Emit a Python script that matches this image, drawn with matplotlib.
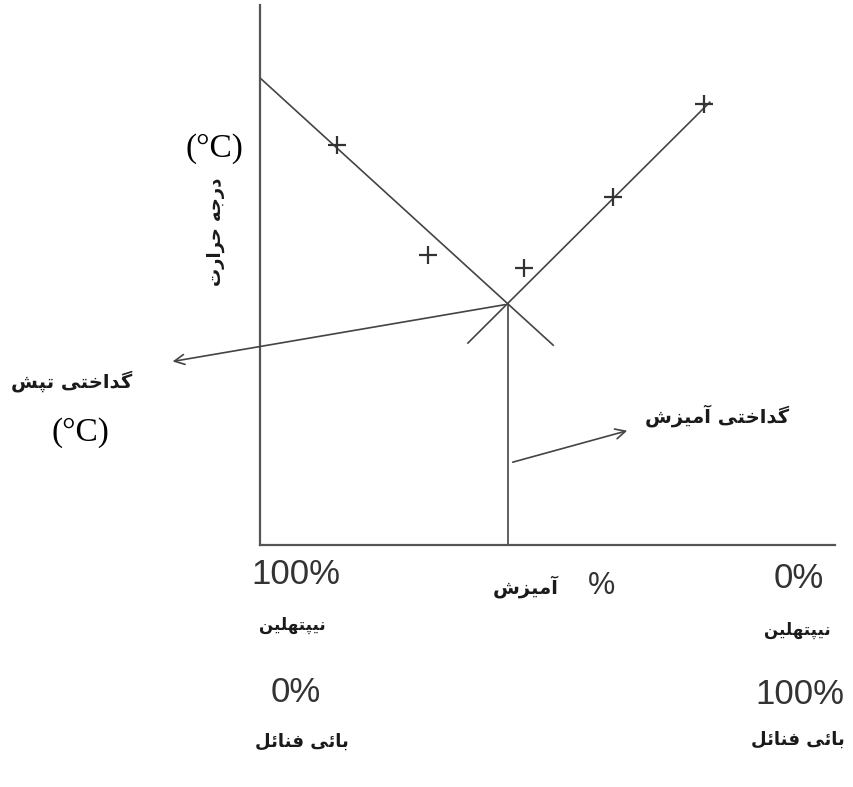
import matplotlib
matplotlib.use("Agg")
import matplotlib.pyplot as plt
from matplotlib import font_manager
from fontTools.ttLib import TTFont

# ---------------- data (composition %, temperature in arbitrary units) -------------
liq_left_x = [0.0, 54.3]        # naphthalene-rich liquidus line
liq_left_y = [86.5, 37.0]
liq_right_x = [38.5, 83.3]      # biphenyl-rich liquidus line
liq_right_y = [37.4, 82.0]
eutectic_x = 45.9
eutectic_y = 44.6
meas_x = [14.3, 31.1, 48.9, 65.4, 82.2]   # measured points (+)
meas_y = [74.1, 53.7, 51.3, 64.4, 81.7]

lbl_temp = "درجہ حرارت"
lbl_unit = "(°C)"
lbl_eut_temp = "گداختی تپش"
lbl_eut_mix = "گداختی آمیزش"
lbl_comp = "آمیزش"
lbl_naph = "نیپتھلین"
lbl_biph = "بائی فنائل"
left_pcts = ["100%", "0%"]
right_pcts = ["0%", "100%"]

# ---------------- minimal Arabic/Urdu shaping (matplotlib has no shaping) ----------
FORMS = {  # iso, fin, ini, med
    'ا': (0xFE8D, 0xFE8E, None, None), 'آ': (0xFE81, 0xFE82, None, None),
    'د': (0xFEA9, 0xFEAA, None, None), 'ر': (0xFEAD, 0xFEAE, None, None),
    'ز': (0xFEAF, 0xFEB0, None, None),
    'ب': (0xFE8F, 0xFE90, 0xFE91, 0xFE92), 'ت': (0xFE95, 0xFE96, 0xFE97, 0xFE98),
    'ج': (0xFE9D, 0xFE9E, 0xFE9F, 0xFEA0), 'ح': (0xFEA1, 0xFEA2, 0xFEA3, 0xFEA4),
    'خ': (0xFEA5, 0xFEA6, 0xFEA7, 0xFEA8), 'ش': (0xFEB5, 0xFEB6, 0xFEB7, 0xFEB8),
    'ف': (0xFED1, 0xFED2, 0xFED3, 0xFED4), 'ل': (0xFEDD, 0xFEDE, 0xFEDF, 0xFEE0),
    'م': (0xFEE1, 0xFEE2, 0xFEE3, 0xFEE4), 'ن': (0xFEE5, 0xFEE6, 0xFEE7, 0xFEE8),
    'ئ': (0xFE89, 0xFE8A, 0xFE8B, 0xFE8C),
    'پ': (0xFB56, 0xFB57, 0xFB58, 0xFB59), 'ٹ': (0xFB66, 0xFB67, 0xFB68, 0xFB69),
    'ک': (0xFB8E, 0xFB8F, 0xFB90, 0xFB91), 'گ': (0xFB92, 0xFB93, 0xFB94, 0xFB95),
    'ہ': (0xFBA6, 0xFBA7, 0xFBA8, 0xFBA9), 'ھ': (0xFBAA, 0xFBAB, 0xFBAC, 0xFBAD),
    'ی': (0xFBFC, 0xFBFD, 0xFBFE, 0xFBFF),
}
FALLBACK = {'ی': 'ي', 'ک': 'ك', 'ہ': 'ه', 'ھ': 'ه'}
FORMS['ي'] = (0xFEF1, 0xFEF2, 0xFEF3, 0xFEF4)
FORMS['ك'] = (0xFED9, 0xFEDA, 0xFEDB, 0xFEDC)
FORMS['ه'] = (0xFEE9, 0xFEEA, 0xFEEB, 0xFEEC)

FONT = "DejaVu Sans"
WEIGHT = "bold"
try:
    _path = font_manager.findfont(font_manager.FontProperties(family=FONT, weight=WEIGHT))
    _cmap = TTFont(_path, fontNumber=0).getBestCmap()
    if 0xFEB5 not in _cmap:
        WEIGHT = "normal"
        _path = font_manager.findfont(font_manager.FontProperties(family=FONT))
        _cmap = TTFont(_path, fontNumber=0).getBestCmap()
except Exception:
    _cmap = None


def has(cp):
    return _cmap is None or cp in _cmap


def dual(c):
    return c in FORMS and FORMS[c][2] is not None


def shape(word):
    out = []
    n = len(word)
    for i, c in enumerate(word):
        if c not in FORMS:
            out.append(c)
            continue
        prev_j = i > 0 and dual(word[i - 1])
        next_j = dual(c) and i < n - 1 and word[i + 1] in FORMS
        idx = 3 if (prev_j and next_j) else 1 if prev_j else 2 if next_j else 0
        ch = c
        cp = FORMS[ch][idx]
        if not has(cp) and ch in FALLBACK:
            ch = FALLBACK[ch]
            cp = FORMS[ch][idx]
        out.append(chr(cp) if has(cp) else ch)
    return "".join(out)[::-1]


def ur(text):
    return shape(text)


# ---------------- figure -----------------------------------------------------------
W, H, DPI = 854, 787, 100
fig = plt.figure(figsize=(W / DPI, H / DPI), dpi=DPI)
ax = fig.add_axes([260 / W, 242 / H, 575 / W, 540 / H])
ax.set_xlim(0, 575 / 5.4)
ax.set_ylim(0, 540 / 5.4)
for s in ("top", "right"):
    ax.spines[s].set_visible(False)
for s in ("left", "bottom"):
    ax.spines[s].set_color("#555555")
    ax.spines[s].set_linewidth(1.6)
ax.set_xticks([])
ax.set_yticks([])

lc = "#444444"
ax.plot(liq_left_x, liq_left_y, color=lc, lw=1.2)
ax.plot(liq_right_x, liq_right_y, color=lc, lw=1.2)
ax.plot(meas_x, meas_y, ls="none", marker="+", ms=13, mew=1.6, color="#333333")
ax.plot([eutectic_x, eutectic_x], [0, eutectic_y], color=lc, lw=1.2)

arrow = dict(arrowstyle="->", color=lc, lw=1.2, mutation_scale=18)
ax.annotate("", xy=(-16.7, 33.9), xytext=(eutectic_x, eutectic_y),
            arrowprops=arrow, annotation_clip=False)
ax.annotate("", xy=(68.5, 21.3), xytext=(46.3, 15.2),
            arrowprops=arrow, annotation_clip=False)

# ---------------- texts (figure pixel placement) ----------------------------------
def ftext(x, y, s, size, **kw):
    fig.text(x / W, 1 - y / H, s, ha="center", va="center", fontsize=size, **kw)

ufont = dict(family=FONT, fontweight=WEIGHT, color="#1a1a1a")
nfont = dict(family="Liberation Sans", color="#333333")

ftext(214, 149, lbl_unit, 24, family="Liberation Serif")
ftext(216, 232, ur(lbl_temp), 13, rotation=90, **ufont)

ftext(72, 381, ur(lbl_eut_temp), 14, **ufont)
ftext(80, 433, lbl_unit, 24, family="Liberation Serif")

ftext(717, 416, ur(lbl_eut_mix), 14, **ufont)

ftext(296, 574, left_pcts[0], 25, **nfont)
ftext(292, 625, ur(lbl_naph), 12, **ufont)
ftext(296, 692, left_pcts[1], 25, **nfont)
ftext(302, 742, ur(lbl_biph), 13, **ufont)

ftext(526, 587, ur(lbl_comp), 14, **ufont)
ftext(602, 586, "%", 22, **nfont)

ftext(799, 578, right_pcts[0], 25, **nfont)
ftext(797, 630, ur(lbl_naph), 12, **ufont)
ftext(800, 695, right_pcts[1], 25, **nfont)
ftext(798, 740, ur(lbl_biph), 13, **ufont)

fig.savefig("out.png", dpi=DPI)
